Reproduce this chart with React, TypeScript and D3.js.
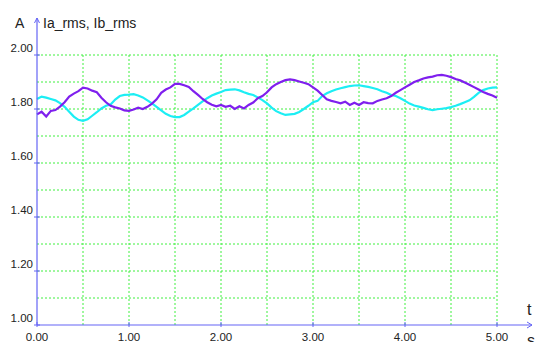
import React from 'react';
import * as d3 from 'd3';

// sampled every 0.05 s, 0.00 .. 5.00
const times = d3.range(0, 101).map(i => i * 0.05);

const iaRms = [
  1.780, 1.790, 1.772, 1.793, 1.796, 1.809, 1.825, 1.846, 1.857, 1.866,
  1.879, 1.876, 1.868, 1.862, 1.842, 1.825, 1.812, 1.806, 1.802, 1.795,
  1.793, 1.798, 1.805, 1.800, 1.808, 1.820, 1.836, 1.860, 1.872, 1.880,
  1.893, 1.893, 1.888, 1.882, 1.866, 1.852, 1.837, 1.825, 1.816, 1.810,
  1.815, 1.808, 1.812, 1.800, 1.810, 1.802, 1.815, 1.824, 1.840, 1.848,
  1.862, 1.880, 1.892, 1.900, 1.907, 1.910, 1.907, 1.902, 1.897, 1.892,
  1.880, 1.868, 1.852, 1.836, 1.830, 1.826, 1.821, 1.827, 1.815, 1.823,
  1.815, 1.825, 1.822, 1.821, 1.830, 1.835, 1.840, 1.848, 1.860, 1.870,
  1.880, 1.890, 1.900, 1.906, 1.913, 1.917, 1.920, 1.925, 1.926, 1.923,
  1.918, 1.911, 1.906, 1.898, 1.890, 1.881, 1.872, 1.863, 1.856, 1.850,
  1.842
];

const ibRms = [
  1.837, 1.846, 1.842, 1.837, 1.832, 1.822, 1.808, 1.790, 1.772, 1.760,
  1.756, 1.762, 1.775, 1.788, 1.802, 1.812, 1.817, 1.835, 1.848, 1.852,
  1.853, 1.855, 1.850, 1.843, 1.832, 1.821, 1.808, 1.795, 1.782, 1.774,
  1.770, 1.770, 1.778, 1.790, 1.802, 1.815, 1.828, 1.840, 1.850, 1.857,
  1.863, 1.870, 1.872, 1.873, 1.869, 1.862, 1.856, 1.852, 1.843, 1.833,
  1.821, 1.805, 1.792, 1.784, 1.778, 1.780, 1.782, 1.789, 1.800, 1.812,
  1.825, 1.830, 1.848, 1.858, 1.866, 1.872, 1.877, 1.881, 1.885, 1.887,
  1.888, 1.885, 1.882, 1.878, 1.873, 1.866, 1.860, 1.852, 1.848, 1.840,
  1.830, 1.820, 1.813, 1.809, 1.804, 1.799, 1.796, 1.799, 1.801, 1.803,
  1.807, 1.812, 1.818, 1.825, 1.832, 1.845, 1.860, 1.870, 1.876, 1.879,
  1.880
];

const xTicks = [0, 1, 2, 3, 4, 5];
const yTicks = [1.0, 1.2, 1.4, 1.6, 1.8, 2.0];
const xGrid = [0.5, 1, 1.5, 2, 2.5, 3, 3.5, 4, 4.5, 5];
const yGrid = [1.1, 1.2, 1.3, 1.4, 1.5, 1.6, 1.7, 1.8, 1.9, 2.0];

const FONT = '"Liberation Sans", Arial, sans-serif';

class App extends React.Component {

  _chartComponents() {
    const width = 542, height = 342;
    const x = d3.scaleLinear().domain([0, 5]).range([37, 497]);
    const y = d3.scaleLinear().domain([1, 2]).range([325, 55]);
    const line = d3.line<number>()
      .x((d, i) => x(times[i]))
      .y(d => y(d));
    return { width, height, x, y, line };
  }

  render() {
    const { width, height, x, y, line } = this._chartComponents();
    const axisColor = '#6464f5';
    const x0 = x(0), y0 = y(1);

    return (
      <svg width={width} height={height}
           style={{ position: 'absolute', left: 0, top: 0, background: '#fff' }}>
        {xGrid.map(t => (
          <line key={'gx' + t} x1={x(t)} x2={x(t)} y1={y(1)} y2={y(2)}
                stroke="#3ef03e" strokeDasharray="2,2" />
        ))}
        {yGrid.map(v => (
          <line key={'gy' + v} x1={x0} x2={x(5)} y1={y(v)} y2={y(v)}
                stroke="#3ef03e" strokeDasharray="2,2" />
        ))}

        <path d={line(ibRms) || ''} fill="none" stroke="#1ceef4" strokeWidth={2.2} />
        <path d={line(iaRms) || ''} fill="none" stroke="#7f1fee" strokeWidth={2.2} />

        {/* axes */}
        <line x1={x0} x2={532} y1={y0} y2={y0} stroke={axisColor} strokeWidth={1.2} />
        <polyline points={`${527},${y0 - 3} ${532},${y0} ${527},${y0 + 3}`}
                  fill="none" stroke={axisColor} />
        <line x1={x0} x2={x0} y1={y0} y2={18} stroke={axisColor} strokeWidth={1.2} />
        <polyline points={`${x0 - 2.5},${23} ${x0},${18} ${x0 + 2.5},${23}`}
                  fill="none" stroke={axisColor} />

        {xTicks.map(t => (
          <g key={'xt' + t}>
            <line x1={x(t)} x2={x(t)} y1={y0 - 3} y2={y0 + 2} stroke={axisColor} />
            <text x={x(t)} y={341} textAnchor="middle" fontFamily={FONT}
                  fontSize={11.5} fill="#222">{t.toFixed(2)}</text>
          </g>
        ))}
        {yTicks.map(v => (
          <g key={'yt' + v}>
            <line x1={x0 - 3} x2={x0 + 3} y1={y(v)} y2={y(v)} stroke={axisColor} />
            <text x={33} y={y(v) - 3} textAnchor="end" fontFamily={FONT}
                  fontSize={11.5} fill="#222">{v.toFixed(2)}</text>
          </g>
        ))}

        <text x={15} y={28} fontFamily={FONT} fontSize={14} fill="#222">A</text>
        <text x={43} y={28} fontFamily={FONT} fontSize={14} fill="#222">Ia_rms, Ib_rms</text>
        <text x={527} y={315} fontFamily={FONT} fontSize={16} fill="#222">t</text>
        <text x={527} y={346} fontFamily={FONT} fontSize={16} fill="#222">s</text>
      </svg>
    );
  }
}

export default App;
